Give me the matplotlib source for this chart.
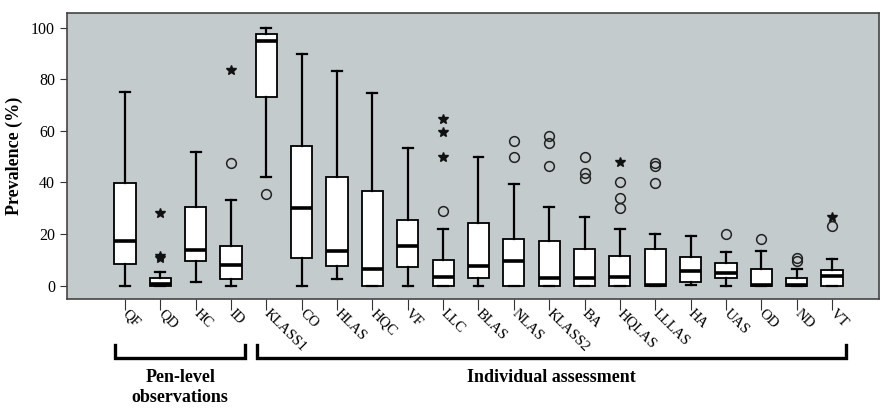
import matplotlib
matplotlib.use("Agg")
import matplotlib.pyplot as plt

plt.rcParams["font.family"] = ["Liberation Serif", "DejaVu Serif"]

labels = ["QF", "QD", "HC", "ID", "KLASS1", "CO", "HLAS", "HQC", "VF", "LLC", "BLAS",
          "NLAS", "KLASS2", "BA", "HQLAS", "LLLAS", "HA", "UAS", "OD", "ND", "VT"]

whis_low = [0, 0, 1.6, 0, 42, 0, 2.6, 0, 0, 0, 0, 0, 0, 0, 0, 0, 0.3, 0, 0, 0, 0]
q1 = [8.3, 0, 9.7, 2.6, 73, 10.6, 7.6, 0, 7.2, 0, 3.1, 0, 0, 0, 0, 0, 1.3, 2.9, 0, 0, 0]
median = [17.2, 0.5, 13.8, 7.9, 95, 30, 13.3, 6.4, 15.4, 3.2, 7.8, 9.5, 2.9, 2.9, 3.5,
          0.3, 5.8, 5.0, 0.3, 0.3, 3.9]
q3 = [39.8, 2.8, 30.4, 15.5, 97.4, 54.1, 42.3, 36.6, 25.6, 9.8, 24.2, 18.2, 17.3, 14.1,
      11.4, 14.1, 11.0, 8.9, 6.3, 3.1, 6.1]
whis_high = [75, 5.4, 52, 33.2, 100, 89.7, 83.3, 74.8, 53.2, 22, 50, 39.5, 30.6, 26.6,
             22, 19.9, 19.3, 13.2, 13.6, 6.5, 10.3]

# outliers (circles) and extremes (stars), per category
outliers = {"ID": [47.6], "KLASS1": [35.7], "LLC": [29], "NLAS": [50, 56],
            "KLASS2": [46.5, 55.4, 58], "BA": [50, 43.5, 41.8],
            "HQLAS": [30, 34.1, 40.3], "LLLAS": [39.9, 46.5, 47.5], "UAS": [20],
            "OD": [18], "ND": [9.6, 10.9], "VT": [23.3]}
extremes = {"QD": [28, 10.9, 11.6], "ID": [83.6], "LLC": [50, 59.5, 64.6],
            "HQLAS": [47.8], "VT": [26.8]}

groups = ["Pen-level\nobservations", "Individual assessment"]
group_spans = [("QF", "ID"), ("KLASS1", "VT")]

positions = list(range(1, len(labels) + 1))
stats = []
for i, lab in enumerate(labels):
    stats.append({"label": lab, "whislo": whis_low[i], "q1": q1[i], "med": median[i],
                  "q3": q3[i], "whishi": whis_high[i], "fliers": []})

fig = plt.figure(figsize=(8.8, 4.12), dpi=100)
ax = fig.add_axes([0.0758, 0.274, 0.923, 0.694])
ax.set_facecolor("#c3cbcc")

ax.bxp(stats, positions=positions, widths=0.6, patch_artist=True, showfliers=False,
       boxprops=dict(facecolor="white", edgecolor="black", linewidth=1.3),
       medianprops=dict(color="black", linewidth=2.6),
       whiskerprops=dict(color="black", linewidth=1.6),
       capprops=dict(color="black", linewidth=1.6), capwidths=0.28)

for lab, vals in outliers.items():
    x = labels.index(lab) + 1
    ax.plot([x] * len(vals), vals, "o", mfc="none", mec="#222222", ms=7, mew=1.1)
for lab, vals in extremes.items():
    x = labels.index(lab) + 1
    ax.plot([x] * len(vals), vals, "*", color="#111111", ms=7.5)

ax.set_xlim(-0.65, 22.33)
ax.set_ylim(-5.2, 105.6)
ax.set_yticks([0, 20, 40, 60, 80, 100])
ax.tick_params(axis="y", labelsize=11.5, length=5, color="#333333")
ax.tick_params(axis="x", length=8, pad=1, color="#333333")
ax.set_xticks(positions)
ax.set_xticklabels(labels, rotation=-45, ha="left", va="center",
                   rotation_mode="anchor", fontsize=10.5)
ax.set_ylabel("Prevalence (%)", fontsize=13, fontweight="bold", labelpad=6)
for sp in ax.spines.values():
    sp.set_color("#444444")
    sp.set_linewidth(1.2)

# group brackets below the tick labels
tr = ax.get_xaxis_transform()
for (a, b), name in zip(group_spans, groups):
    x0 = labels.index(a) + 1 - 0.28
    x1 = labels.index(b) + 1 + 0.4
    ax.plot([x0, x0, x1, x1], [-0.16, -0.205, -0.205, -0.16], color="black",
            lw=2.4, transform=tr, clip_on=False, solid_joinstyle="miter")
    ax.text((x0 + x1) / 2, -0.245, name, transform=tr, ha="center", va="top",
            fontsize=13, fontweight="bold", linespacing=1.25)

fig.savefig("out.png", dpi=100)
